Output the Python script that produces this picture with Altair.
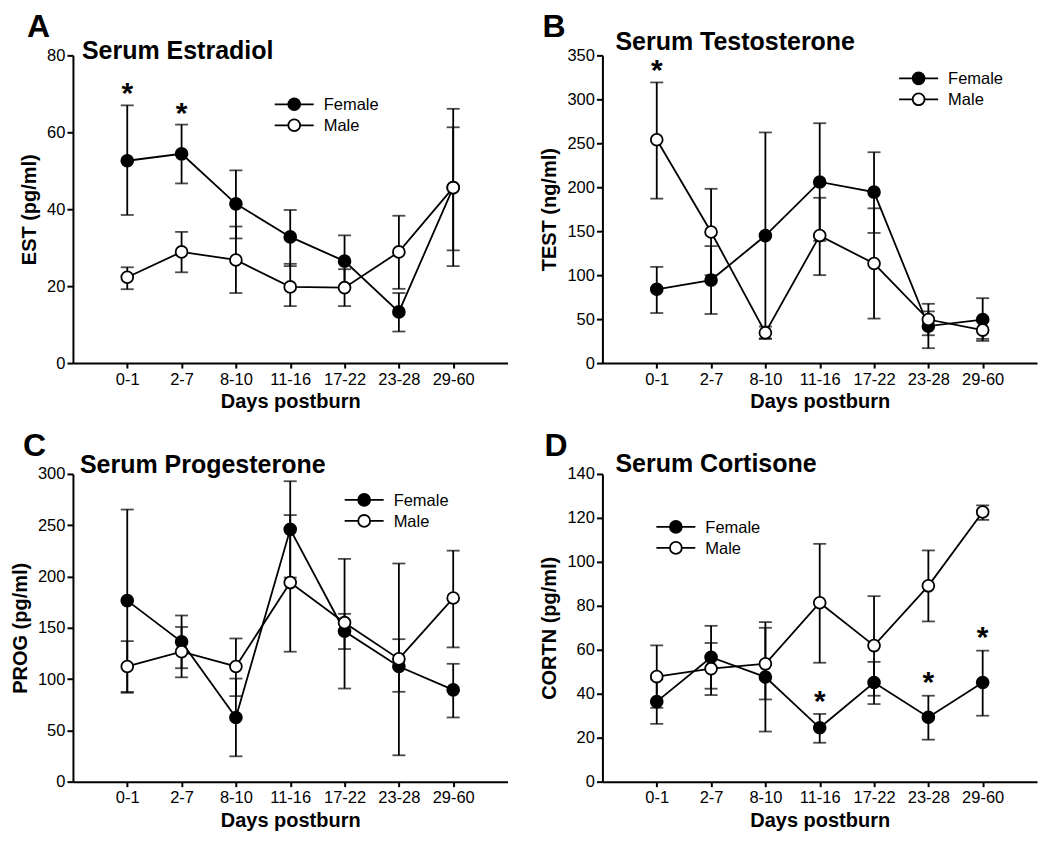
import altair as alt
import pandas as pd

cats = ["0-1", "2-7", "8-10", "11-16", "17-22", "23-28", "29-60"]
sexes = ["Female", "Male"]

# Panel A: Serum Estradiol (pg/ml)
est_f = [52.6, 54.4, 41.4, 32.8, 26.5, 13.3, 45.6]
est_f_lo = [38.5, 46.7, 32.4, 25.2, 19.8, 8.2, 25.2]
est_f_hi = [67.0, 62.0, 50.1, 39.8, 33.2, 18.2, 66.1]
est_m = [22.3, 28.9, 26.8, 19.8, 19.6, 28.9, 45.6]
est_m_lo = [19.2, 23.6, 18.2, 14.8, 14.8, 19.3, 29.3]
est_m_hi = [24.9, 34.1, 35.5, 25.8, 24.4, 38.3, 61.3]
est_star_cats = ["0-1", "2-7"]
est_star_y = [70.8, 65.5]

# Panel B: Serum Testosterone (ng/ml)
test_f = [83.9, 94.4, 145.0, 206.0, 194.5, 42.0, 49.5]
test_f_lo = [56.9, 55.8, 28.0, 139.0, 148.0, 16.9, 25.2]
test_f_hi = [109.4, 133.0, 262.3, 272.8, 239.8, 58.8, 73.8]
test_m = [254.0, 149.1, 34.5, 145.0, 113.2, 49.5, 37.5]
test_m_lo = [187.0, 100.0, 27.5, 100.0, 50.6, 31.6, 27.5]
test_m_hi = [319.2, 198.2, 41.5, 188.0, 176.0, 67.4, 47.5]
test_star_cats = ["0-1"]
test_star_y = [336.0]

# Panel C: Serum Progesterone (pg/ml)
prog_f = [176.5, 136.3, 62.6, 246.0, 146.6, 112.3, 89.5]
prog_f_lo = [87.5, 110.6, 24.7, 199.0, 129.3, 87.6, 62.6]
prog_f_hi = [265.3, 162.0, 100.5, 292.9, 163.6, 138.9, 114.9]
prog_m = [112.3, 126.7, 112.3, 194.1, 155.0, 119.7, 179.0]
prog_m_lo = [86.6, 101.7, 83.4, 126.7, 90.8, 25.7, 130.9]
prog_m_hi = [137.0, 150.8, 139.6, 259.9, 217.2, 212.7, 225.2]
prog_star_cats = []
prog_star_y = []

# Panel D: Serum Cortisone (pg/ml)
cortn_f = [36.4, 56.6, 47.6, 24.5, 45.1, 29.3, 45.1]
cortn_f_lo = [26.3, 42.3, 22.8, 17.7, 35.3, 19.1, 30.0]
cortn_f_hi = [46.5, 70.9, 72.6, 30.8, 54.5, 39.1, 59.6]
cortn_m = [47.8, 51.4, 53.6, 81.4, 61.9, 89.1, 122.7]
cortn_m_lo = [33.6, 39.4, 37.4, 54.1, 39.1, 72.9, 119.1]
cortn_m_hi = [62.0, 63.1, 70.0, 108.2, 84.4, 105.2, 125.7]
cortn_star_cats = ["11-16", "23-28", "29-60"]
cortn_star_y = [37.6, 46.1, 66.8]

FONT = "Liberation Sans"
W, H = 435, 308
LW = 1.8
LABEL_SIZE = 16.5


def panel(letter, letter_dx, title, title_dx, title_dy, ytitle, ymax, ystep,
          f, flo, fhi, m, mlo, mhi, star_cats, star_y, leg_x, leg_y):
    df = pd.DataFrame({
        "cat": cats * 2,
        "sex": ["Female"] * len(cats) + ["Male"] * len(cats),
        "mean": f + m,
        "lo": flo + mlo,
        "hi": fhi + mhi,
    })
    xs = alt.Scale(type="point", padding=1, domain=cats)
    x = alt.X("cat:N", scale=xs, title="Days postburn",
              axis=alt.Axis(labelAngle=0, labelFontSize=LABEL_SIZE, labelFont=FONT,
                            labelPadding=3, titlePadding=4))
    y = alt.Y("mean:Q", scale=alt.Scale(domain=[0, ymax], nice=False),
              axis=alt.Axis(title=ytitle, values=list(range(0, ymax + 1, ystep)),
                            labelFontSize=LABEL_SIZE, labelFont=FONT, tickSize=6,
                            labelPadding=2, titlePadding=7))
    base = alt.Chart(df)
    err = base.mark_rule(color="black", strokeWidth=LW).encode(
        x=x, y=alt.Y("lo:Q"), y2="hi:Q")
    cap_hi = base.mark_tick(orient="horizontal", color="black", size=13,
                            thickness=LW).encode(x=x, y="hi:Q")
    cap_lo = base.mark_tick(orient="horizontal", color="black", size=13,
                            thickness=LW).encode(x=x, y="lo:Q")
    line = base.mark_line(color="black", strokeWidth=LW).encode(
        x=x, y=y, detail="sex:N")
    pts = base.mark_point(shape="circle", filled=True, size=140, stroke="black",
                          strokeWidth=LW, opacity=1).encode(
        x=x, y=y,
        fill=alt.Fill("sex:N", scale=alt.Scale(domain=sexes, range=["black", "white"]),
                      legend=None))
    layers = [err, cap_hi, cap_lo, line, pts]
    if star_cats:
        sdf = pd.DataFrame({"cat": star_cats, "y": star_y})
        stars = alt.Chart(sdf).mark_text(text="*", font=FONT, fontSize=30,
                                          fontWeight="bold", baseline="middle",
                                          dy=3, color="black").encode(
            x=x, y=alt.Y("y:Q"))
        layers.append(stars)
    tdf = pd.DataFrame({"t": [title], "l": [letter]})
    ttl = alt.Chart(tdf).mark_text(font=FONT, fontSize=25, fontWeight="bold",
                                   align="left", baseline="alphabetic",
                                   color="black").encode(
        text="t:N", x=alt.value(title_dx), y=alt.value(title_dy))
    let = alt.Chart(tdf).mark_text(font=FONT, fontSize=32, fontWeight="bold",
                                   align="left", baseline="alphabetic",
                                   color="black").encode(
        text="l:N", x=alt.value(letter_dx), y=alt.value(-18))
    layers += [ttl, let]
    ldf = pd.DataFrame({"s": sexes})
    for i, s in enumerate(sexes):
        yy = leg_y + 21 * i
        sd = ldf[ldf.s == s]
        lr = alt.Chart(sd).mark_rule(color="black", strokeWidth=LW).encode(
            x=alt.value(leg_x), x2=alt.value(leg_x + 39), y=alt.value(yy))
        lp = alt.Chart(sd).mark_point(shape="circle", filled=True, size=140,
                                      stroke="black", strokeWidth=LW,
                                      fill="black" if s == "Female" else "white",
                                      opacity=1).encode(
            x=alt.value(leg_x + 19.5), y=alt.value(yy))
        lt = alt.Chart(sd).mark_text(font=FONT, fontSize=16.5, align="left",
                                     baseline="middle", color="black").encode(
            text="s:N", x=alt.value(leg_x + 49), y=alt.value(yy + 1))
        layers += [lr, lp, lt]
    return alt.layer(*layers).properties(width=W, height=H)


A = panel("A", -46, "Serum Estradiol", 9, 4, "EST (pg/ml)", 80, 20,
          est_f, est_f_lo, est_f_hi, est_m, est_m_lo, est_m_hi,
          est_star_cats, est_star_y, 202, 49)
B = panel("B", -60, "Serum Testosterone", 13, -5, "TEST (ng/ml)", 350, 50,
          test_f, test_f_lo, test_f_hi, test_m, test_m_lo, test_m_hi,
          test_star_cats, test_star_y, 297, 23)
C = panel("C", -50, "Serum Progesterone", 7, -1, "PROG (pg/ml)", 300, 50,
          prog_f, prog_f_lo, prog_f_hi, prog_m, prog_m_lo, prog_m_hi,
          prog_star_cats, prog_star_y, 272, 26)
D = panel("D", -58, "Serum Cortisone", 13, -2, "CORTN (pg/ml)", 140, 20,
          cortn_f, cortn_f_lo, cortn_f_hi, cortn_m, cortn_m_lo, cortn_m_hi,
          cortn_star_cats, cortn_star_y, 54, 53)

chart = alt.concat(A, B, C, D, columns=2, spacing={"row": 111, "column": 95},
                   bounds="flush").properties(
    padding={"left": 2, "top": 3, "right": 5, "bottom": 5}
).configure_view(stroke=None).configure_axis(
    grid=False, domainColor="black", domainWidth=2, tickColor="black",
    tickWidth=2, tickSize=5, labelFont=FONT, labelFontSize=LABEL_SIZE,
    labelColor="black", titleFont=FONT, titleFontSize=20,
    titleFontWeight="bold", titleColor="black"
)

chart.save("out.html", embed_options={"renderer": "svg", "actions": False})
